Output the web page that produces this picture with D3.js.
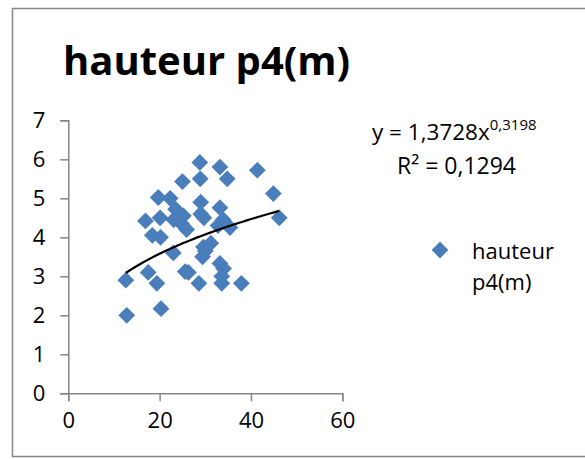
<!DOCTYPE html>
<html>
<head>
<meta charset="utf-8">
<script src="https://cdn.jsdelivr.net/npm/d3@7"></script>
<style>
  html, body { margin: 0; padding: 0; background: #fff; }
  svg { display: block; }
</style>
</head>
<body>
<div id="chart"></div>
<script>
// diameter (x) vs hauteur p4 (y)
const xValues = [12.6, 12.8, 17.5, 19.4, 20.3, 16.9, 18.4, 20.2, 19.7, 20.1,
  22.3, 23.5, 23.1, 24.8, 25.9, 23.0, 25.6, 26.3, 25.0, 28.8,
  28.9, 29.0, 29.0, 29.7, 28.6, 29.4, 29.6, 31.2, 33.2, 34.8,
  33.2, 33.9, 32.8, 35.4, 33.2, 34.0, 33.6, 33.6, 37.9, 41.4,
  44.9, 46.2, 25.2, 30.0];
const yValues = [2.9, 2.0, 3.1, 2.82, 2.17, 4.42, 4.05, 4.0, 5.02, 4.5,
  5.0, 4.72, 4.45, 4.35, 4.2, 3.6, 3.12, 3.1, 5.43, 5.92,
  5.5, 4.9, 4.6, 4.5, 2.82, 3.5, 3.75, 3.85, 5.8, 5.5,
  4.76, 4.45, 4.3, 4.25, 3.33, 3.2, 3.0, 2.82, 2.82, 5.72,
  5.12, 4.5, 4.55, 3.65];
const xTicks = [0, 20, 40, 60];
const yTicks = [0, 1, 2, 3, 4, 5, 6, 7];
const trendA = 1.3728, trendB = 0.3198;

const W = 585, H = 459;
const blue = '#4a7ebb';
const axisGray = '#868686';
const font = "'Open Sans', 'DejaVu Sans', sans-serif";

const svg = d3.select('#chart').append('svg')
  .attr('width', W).attr('height', H);

// chart frame
svg.append('rect')
  .attr('x', 12.5).attr('y', 8.5)
  .attr('width', W).attr('height', 448)
  .attr('fill', '#fff')
  .attr('stroke', axisGray).attr('stroke-width', 1.5);

svg.append('text')
  .attr('x', 63).attr('y', 75)
  .attr('font-family', font).attr('font-weight', 'bold')
  .attr('font-size', '40px').attr('fill', '#000')
  .text('hauteur p4(m)');

const x = d3.scaleLinear().domain([0, 60]).range([68.3, 342.3]);
const y = d3.scaleLinear().domain([0, 7]).range([393.3, 120.3]);

const gx = svg.append('g').attr('transform', `translate(0,${y(0)})`)
  .call(d3.axisBottom(x).tickValues(xTicks).tickFormat(d3.format('d'))
    .tickSize(8).tickPadding(11));
const gy = svg.append('g').attr('transform', `translate(${x(0)},0)`)
  .call(d3.axisLeft(y).tickValues(yTicks).tickFormat(d3.format('d'))
    .tickSize(8).tickPadding(15));

[gx, gy].forEach(g => {
  g.select('.domain').attr('stroke', axisGray).attr('stroke-width', 1.5);
  g.selectAll('.tick line').attr('stroke', axisGray).attr('stroke-width', 1.5);
  g.selectAll('.tick text')
    .attr('font-family', font).attr('font-size', '22px').attr('fill', '#000');
});

// points
const diamond = d3.symbol().type(d3.symbolDiamond2).size(180);
svg.append('g').selectAll('path')
  .data(xValues.map((v, i) => [v, yValues[i]]))
  .join('path')
  .attr('d', diamond)
  .attr('transform', d => `translate(${x(d[0])},${y(d[1])})`)
  .attr('fill', blue);

// power trend line
const [xmin, xmax] = d3.extent(xValues);
const trend = d3.range(0, 61).map(i => {
  const xv = xmin + (xmax - xmin) * i / 60;
  return [xv, trendA * Math.pow(xv, trendB)];
});
svg.append('path')
  .datum(trend)
  .attr('d', d3.line().x(d => x(d[0])).y(d => y(d[1])).curve(d3.curveMonotoneX))
  .attr('fill', 'none').attr('stroke', '#000').attr('stroke-width', 2.2);

// equation
const eq = svg.append('text')
  .attr('x', 372).attr('y', 140)
  .attr('font-family', font).attr('font-size', '22.5px').attr('fill', '#000');
eq.append('tspan').text('y = 1,3728x');
eq.append('tspan').attr('dy', -10).attr('font-size', '15px').text('0,3198');
svg.append('text')
  .attr('x', 397).attr('y', 174)
  .attr('font-family', font).attr('font-size', '23px').attr('fill', '#000')
  .text('R² = 0,1294');

// legend
svg.append('path')
  .attr('d', diamond)
  .attr('transform', 'translate(440,250)')
  .attr('fill', blue);
const leg = svg.append('text')
  .attr('font-family', font).attr('font-size', '22px').attr('fill', '#000');
leg.append('tspan').attr('x', 472).attr('y', 259).text('hauteur');
leg.append('tspan').attr('x', 472).attr('y', 290).text('p4(m)');
</script>
</body>
</html>
